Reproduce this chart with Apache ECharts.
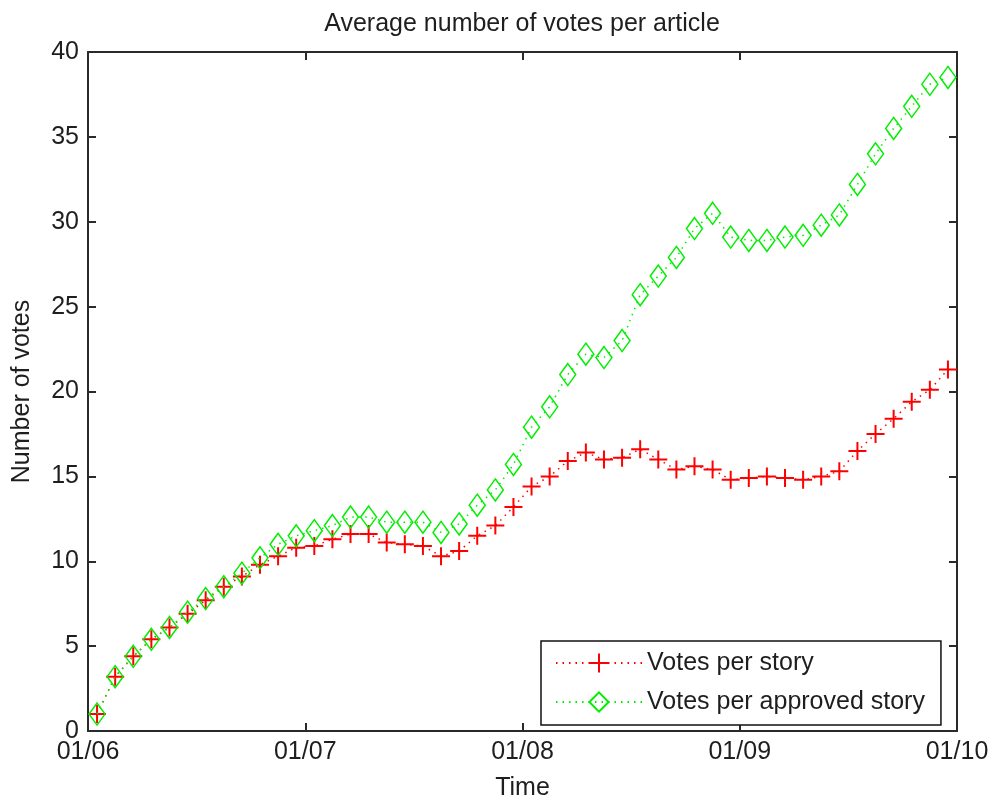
<!DOCTYPE html>
<html>
<head>
<meta charset="utf-8">
<script src="https://cdn.jsdelivr.net/npm/echarts@6/dist/echarts.min.js"></script>
<style>
html,body{margin:0;padding:0;background:#fff;overflow:hidden;}
#chart{width:992px;height:806px;}
</style>
</head>
<body>
<div id="chart"></div>
<script>
// Monthly observations (Jan 2006 .. Dec 2009), plotted at mid-month
var months = [
  '2006-01','2006-02','2006-03','2006-04','2006-05','2006-06','2006-07','2006-08','2006-09','2006-10','2006-11','2006-12',
  '2007-01','2007-02','2007-03','2007-04','2007-05','2007-06','2007-07','2007-08','2007-09','2007-10','2007-11','2007-12',
  '2008-01','2008-02','2008-03','2008-04','2008-05','2008-06','2008-07','2008-08','2008-09','2008-10','2008-11','2008-12',
  '2009-01','2009-02','2009-03','2009-04','2009-05','2009-06','2009-07','2009-08','2009-09','2009-10','2009-11','2009-12'
];
var votesPerStory = [
  1.0, 3.2, 4.4, 5.4, 6.1, 6.9, 7.7, 8.5, 9.1, 9.8, 10.3, 10.8,
  10.9, 11.3, 11.6, 11.6, 11.1, 11.0, 10.9, 10.3, 10.6, 11.5, 12.1, 13.2,
  14.4, 15.0, 15.9, 16.4, 16.0, 16.1, 16.6, 16.0, 15.4, 15.6, 15.4, 14.8,
  14.9, 15.0, 14.9, 14.8, 15.0, 15.3, 16.5, 17.5, 18.4, 19.4, 20.1, 21.3
];
var votesPerApprovedStory = [
  1.0, 3.2, 4.4, 5.4, 6.1, 7.0, 7.8, 8.5, 9.3, 10.2, 11.0, 11.5,
  11.8, 12.1, 12.6, 12.6, 12.3, 12.3, 12.3, 11.7, 12.2, 13.3, 14.2, 15.7,
  17.9, 19.1, 21.0, 22.2, 22.0, 23.0, 25.7, 26.8, 27.9, 29.6, 30.5, 29.1,
  28.9, 28.9, 29.1, 29.2, 29.8, 30.4, 32.2, 34.0, 35.5, 36.8, 38.1, 38.5
];
var xTickLabels = ['01/06', '01/07', '01/08', '01/09', '01/10'];
var seriesNames = ['Votes per story', 'Votes per approved story'];

function toPoints(vals) {
  return vals.map(function (v, i) { return [i + 0.5, v]; });
}

var FONT = '"Liberation Sans", Arial, sans-serif';
var TXT = '#1e1e1e';
var AX = '#2a2a2a';

var chart = echarts.init(document.getElementById('chart'), null, {renderer: 'canvas', width: 992, height: 806});
var option = {
  backgroundColor: '#ffffff',
  animation: false,
  title: {
    text: 'Average number of votes per article',
    left: 517,
    textAlign: 'center',
    top: 7,
    textStyle: {fontFamily: FONT, fontSize: 25, fontWeight: 'normal', color: TXT}
  },
  grid: {left: 88, top: 52, width: 869, height: 685, containLabel: false},
  legend: {
    orient: 'vertical',
    left: 541,
    top: 641,
    backgroundColor: '#fff',
    borderColor: '#111',
    borderWidth: 1.5,
    padding: [8, 16, 9, 14],
    itemGap: 11,
    itemWidth: 86,
    itemHeight: 24,
    textStyle: {fontFamily: FONT, fontSize: 25, color: TXT, lineHeight: 28},
    data: seriesNames
  },
  xAxis: [{
    type: 'value',
    min: 0, max: 48, interval: 12,
    name: 'Time',
    nameLocation: 'middle',
    nameGap: 45,
    nameTextStyle: {fontFamily: FONT, fontSize: 25, color: TXT},
    axisLine: {show: true, onZero: false, lineStyle: {color: AX, width: 2}},
    axisTick: {show: true, inside: true, length: 8, lineStyle: {color: AX, width: 2}},
    axisLabel: {
      fontFamily: FONT, fontSize: 25, color: TXT, margin: 9,
      formatter: function (v) { return xTickLabels[Math.round(v / 12)]; }
    },
    splitLine: {show: false}
  }, {
    type: 'value',
    position: 'top',
    min: 0, max: 48, interval: 12,
    axisLine: {show: true, onZero: false, lineStyle: {color: AX, width: 2}},
    axisTick: {show: true, inside: true, length: 8, lineStyle: {color: AX, width: 2}},
    axisLabel: {show: false},
    splitLine: {show: false}
  }],
  yAxis: [{
    type: 'value',
    min: 0, max: 40, interval: 5,
    name: 'Number of votes',
    nameLocation: 'middle',
    nameGap: 53,
    nameRotate: 90,
    nameTextStyle: {fontFamily: FONT, fontSize: 25, color: TXT},
    axisLine: {show: true, onZero: false, lineStyle: {color: AX, width: 2}},
    axisTick: {show: true, inside: true, length: 8, lineStyle: {color: AX, width: 2}},
    axisLabel: {fontFamily: FONT, fontSize: 25, color: TXT, margin: 9},
    splitLine: {show: false}
  }, {
    type: 'value',
    position: 'right',
    min: 0, max: 40, interval: 5,
    axisLine: {show: true, onZero: false, lineStyle: {color: AX, width: 2}},
    axisTick: {show: true, inside: true, length: 8, lineStyle: {color: AX, width: 2}},
    axisLabel: {show: false},
    splitLine: {show: false}
  }],
  series: [{
    name: seriesNames[0],
    type: 'line',
    xAxisIndex: 0, yAxisIndex: 0,
    data: toPoints(votesPerStory),
    symbol: 'path://M0,8L16,8M8,0L8,16',
    symbolSize: 18,
    showAllSymbol: true,
    color: '#ff0000',
    itemStyle: {color: '#ff0000', borderColor: '#ff0000', borderWidth: 2},
    lineStyle: {color: '#ff0000', width: 1.5, type: [1.5, 5]},
    z: 2
  }, {
    name: seriesNames[1],
    type: 'line',
    xAxisIndex: 0, yAxisIndex: 0,
    data: toPoints(votesPerApprovedStory),
    symbol: 'diamond',
    symbolSize: [16, 22],
    showAllSymbol: true,
    color: '#00ee00',
    itemStyle: {color: 'rgba(255,255,255,0)', borderColor: '#00ee00', borderWidth: 1.5},
    lineStyle: {color: '#00ee00', width: 1.5, type: [1.5, 5]},
    z: 3
  }]
};
chart.setOption(option);
</script>
</body>
</html>
